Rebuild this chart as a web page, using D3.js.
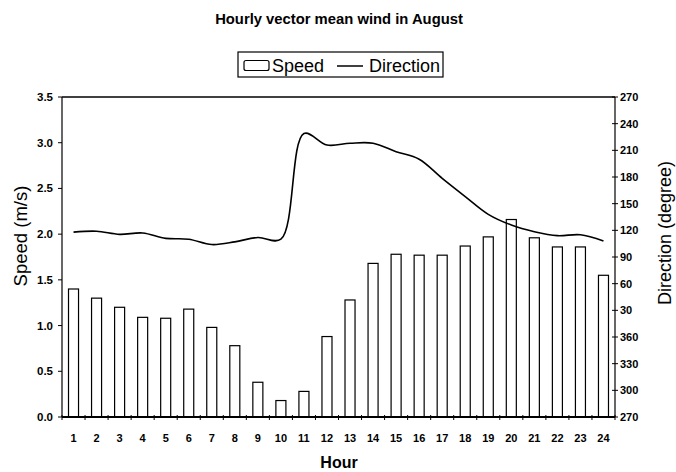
<!DOCTYPE html>
<html>
<head>
<meta charset="utf-8">
<script src="https://cdn.jsdelivr.net/npm/d3@7"></script>
<style>
  body { margin: 0; background: #fff; }
  svg { display: block; font-family: "Liberation Sans", Arial, sans-serif; }
</style>
</head>
<body>
<div id="viz"></div>
<script>
const width = 676;
const height = 472;
const margin = {top: 97, right: 61, bottom: 55, left: 62};

// Data
const hours = d3.range(1, 25);
const speed = [1.40, 1.30, 1.20, 1.09, 1.08, 1.18, 0.98, 0.78, 0.38, 0.18, 0.28, 0.88,
               1.28, 1.68, 1.78, 1.77, 1.77, 1.87, 1.97, 2.16, 1.96, 1.86, 1.86, 1.55];
const direction = [118, 119, 115.5, 117, 111, 110, 104, 107, 112, 110, 229, 216,
                   218, 218, 208.5, 200, 178.5, 158, 138, 126, 118.5, 114, 115, 108];
const speedTicks = [0, 0.5, 1, 1.5, 2, 2.5, 3, 3.5];
// right axis runs 270 -> 360 -> 270 again (values above 360 wrap)
const dirTicks = [270, 300, 330, 360, 390, 420, 450, 480, 510, 540, 570, 600, 630];

const data = hours.map((h, i) => ({hour: h, speed: speed[i], direction: direction[i]}));

const svg = d3.select('#viz')
  .append('svg')
    .attr('width', width)
    .attr('height', height);

// Scales
const x = d3.scaleBand()
  .domain(hours)
  .range([margin.left, width - margin.right])
  .paddingInner(0.565)
  .paddingOuter(0.2825);

const xEdge = d3.scaleLinear()
  .domain([0, 24])
  .range([margin.left, width - margin.right]);

const yLeft = d3.scaleLinear()
  .domain([0, 3.5])
  .range([height - margin.bottom, margin.top]);

const yRight = d3.scaleLinear()
  .domain([270, 630])
  .range([height - margin.bottom, margin.top]);

const dirPos = d => d < 270 ? d + 360 : d;
const dirLabel = d => d > 360 ? d - 360 : d;

// Bars
svg.append('g')
  .selectAll('rect')
  .data(data)
  .join('rect')
    .attr('x', d => x(d.hour))
    .attr('y', d => yLeft(d.speed))
    .attr('width', x.bandwidth())
    .attr('height', d => yLeft(0) - yLeft(d.speed))
    .attr('fill', '#fff')
    .attr('stroke', '#000')
    .attr('stroke-width', 1.2);

// Direction line
const line = d3.line()
  .x(d => x(d.hour) + x.bandwidth() / 2)
  .y(d => yRight(dirPos(d.direction)))
  .curve(d3.curveCatmullRom);

svg.append('path')
  .datum(data)
  .attr('d', line)
  .attr('fill', 'none')
  .attr('stroke', '#000')
  .attr('stroke-width', 1.6);

// Frame
const x0 = margin.left, x1 = width - margin.right;
const yTop = margin.top, yBot = height - margin.bottom;
svg.append('line').attr('x1', x0).attr('x2', x1).attr('y1', yTop).attr('y2', yTop)
  .attr('stroke', '#000').attr('stroke-width', 1.3);
svg.append('line').attr('x1', x0).attr('x2', x0).attr('y1', yTop).attr('y2', yBot)
  .attr('stroke', '#000').attr('stroke-width', 1.2);
svg.append('line').attr('x1', x1).attr('x2', x1).attr('y1', yTop).attr('y2', yBot)
  .attr('stroke', '#000').attr('stroke-width', 1.2);
svg.append('line').attr('x1', x0).attr('x2', x1).attr('y1', yBot).attr('y2', yBot)
  .attr('stroke', '#000').attr('stroke-width', 2);

// Left axis ticks + labels
const left = svg.append('g');
left.selectAll('line')
  .data(speedTicks)
  .join('line')
    .attr('x1', x0 - 4).attr('x2', x0)
    .attr('y1', d => yLeft(d)).attr('y2', d => yLeft(d))
    .attr('stroke', '#000');
left.selectAll('text')
  .data(speedTicks)
  .join('text')
    .attr('x', x0 - 9)
    .attr('y', d => yLeft(d))
    .attr('dy', '0.35em')
    .attr('text-anchor', 'end')
    .style('font-size', '11.5px')
    .style('font-weight', 700)
    .text(d3.format('.1f'));

// Right axis ticks + labels
const right = svg.append('g');
right.selectAll('line')
  .data(dirTicks)
  .join('line')
    .attr('x1', x1 - 3).attr('x2', x1 + 3)
    .attr('y1', d => yRight(d)).attr('y2', d => yRight(d))
    .attr('stroke', '#000');
right.selectAll('text')
  .data(dirTicks)
  .join('text')
    .attr('x', x1 + 5)
    .attr('y', d => yRight(d))
    .attr('dy', '0.35em')
    .style('font-size', '11px')
    .style('font-weight', 700)
    .text(dirLabel);

// X axis ticks at category edges, labels at centres
svg.append('g')
  .selectAll('line')
  .data(d3.range(0, 25))
  .join('line')
    .attr('x1', d => xEdge(d)).attr('x2', d => xEdge(d))
    .attr('y1', yBot - 2).attr('y2', yBot + 3)
    .attr('stroke', '#000');

svg.append('g')
  .selectAll('text')
  .data(hours)
  .join('text')
    .attr('x', d => x(d) + x.bandwidth() / 2)
    .attr('y', yBot + 25)
    .attr('text-anchor', 'middle')
    .style('font-size', '11px')
    .style('font-weight', 700)
    .text(d => d);

// Titles
svg.append('text')
  .attr('x', 339).attr('y', 24)
  .attr('text-anchor', 'middle')
  .style('font-size', '14.8px')
  .style('font-weight', 700)
  .text('Hourly vector mean wind in August');

svg.append('text')
  .attr('x', 339).attr('y', 468)
  .attr('text-anchor', 'middle')
  .style('font-size', '16px')
  .style('font-weight', 700)
  .text('Hour');

svg.append('text')
  .attr('transform', 'translate(27,236) rotate(-90)')
  .attr('text-anchor', 'middle')
  .style('font-size', '18.5px')
  .text('Speed (m/s)');

svg.append('text')
  .attr('transform', 'translate(671,233) rotate(-90)')
  .attr('text-anchor', 'middle')
  .style('font-size', '18px')
  .text('Direction (degree)');

// Legend
const legend = svg.append('g');
legend.append('rect')
  .attr('x', 238).attr('y', 52).attr('width', 205).attr('height', 25)
  .attr('fill', '#fff').attr('stroke', '#000').attr('stroke-width', 1.2);
legend.append('rect')
  .attr('x', 244).attr('y', 60.5).attr('width', 25).attr('height', 10).attr('rx', 2)
  .attr('fill', '#fff').attr('stroke', '#000').attr('stroke-width', 1.2);
legend.append('text')
  .attr('x', 272).attr('y', 72)
  .style('font-size', '18px')
  .text('Speed');
legend.append('line')
  .attr('x1', 337).attr('x2', 363).attr('y1', 66).attr('y2', 66)
  .attr('stroke', '#000').attr('stroke-width', 1.5);
legend.append('text')
  .attr('x', 369).attr('y', 72)
  .style('font-size', '18px')
  .text('Direction');
</script>
</body>
</html>
